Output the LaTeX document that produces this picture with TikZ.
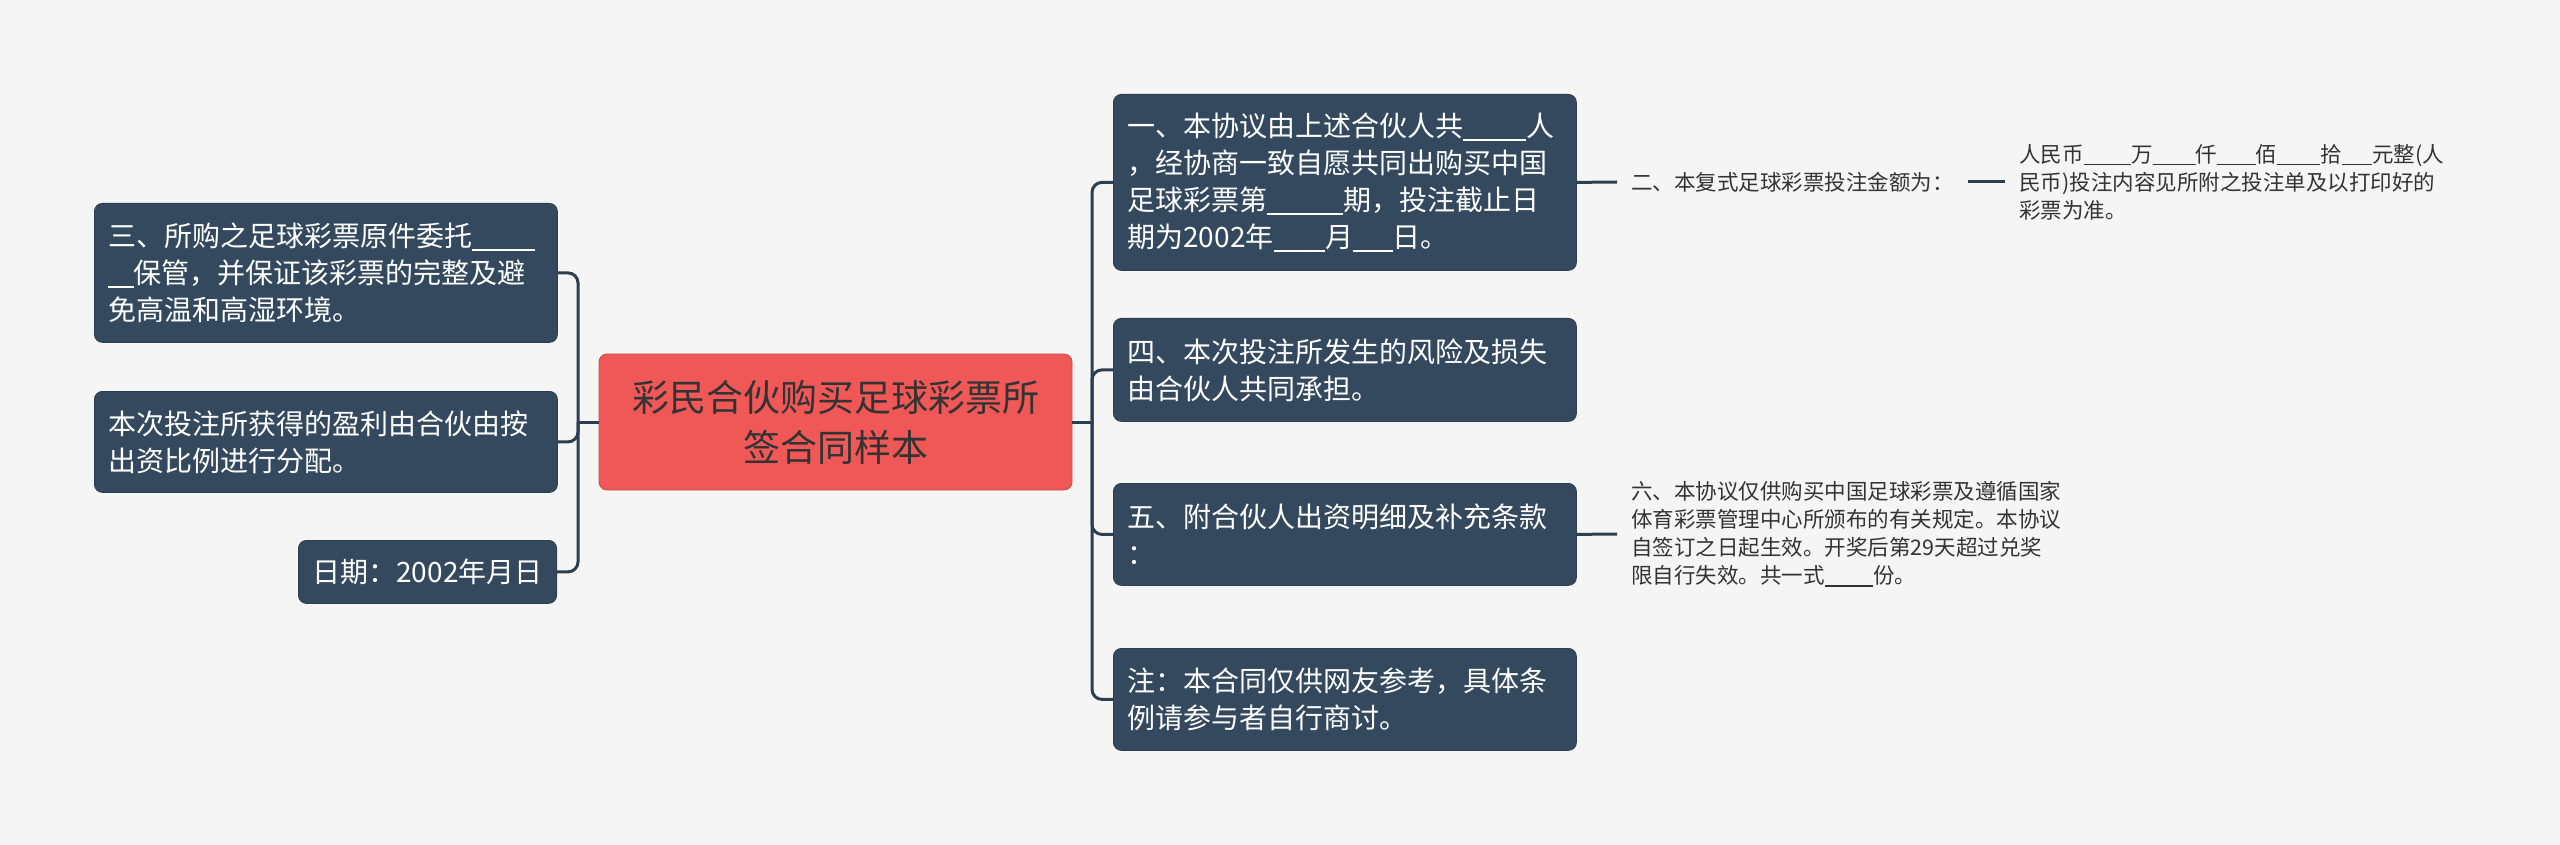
\documentclass[tikz,border=0pt]{standalone}
\usepackage{fontspec}
\setmainfont{Noto Sans CJK SC}
\usetikzlibrary{positioning}
\definecolor{PageGray}{HTML}{F5F5F5}
\definecolor{LeafBlue}{HTML}{34495E}
\definecolor{LinkBlue}{HTML}{2C3E50}
\definecolor{RootRed}{HTML}{F05858}
\definecolor{InkGray}{HTML}{333333}
\newcommand{\blank}[1]{\rule[-0.15em]{#1em}{0.06em}}

\tikzset{
  leafbox/.style={draw=LinkBlue,fill=LeafBlue,rounded corners=4pt,text=white,
    text width=217.5pt,align=left,inner xsep=7pt,inner ysep=0pt,
    font=\fontsize{14pt}{18.5pt}\selectfont},
  rootbox/.style={draw=RootRed!85!black,fill=RootRed,rounded corners=4pt,text=InkGray,
    minimum width=236.5pt,minimum height=68pt,align=center,
    font=\fontsize{18.5pt}{25pt}\selectfont},
  leaftext/.style={text=InkGray,align=left,inner xsep=7pt,
    font=\fontsize{10.75pt}{14pt}\selectfont},
  link/.style={draw=LinkBlue,line width=1.5pt,rounded corners=5pt},
}

\begin{document}
\begin{tikzpicture}[x=0.5pt,y=-0.5pt]
  \fill[PageGray] (0,0) rectangle (2560,845);

  \node[rootbox] (root) at (835.5,422) {彩民合伙购买足球彩票所\\签合同样本};

  \node[leafbox,anchor=north west,minimum height=69.5pt] (n3) at (94,203)
    {三、所购之足球彩票原件委托\blank{2.25}\\\blank{0.9}保管，并保证该彩票的完整及避\\免高温和高湿环境。};
  \node[leafbox,anchor=north west,minimum height=50.5pt] (nprofit) at (94,391)
    {本次投注所获得的盈利由合伙由按\\出资比例进行分配。};
  \node[leafbox,text width=,anchor=north east,minimum height=31.5pt] (ndate) at (557,540)
    {日期：2002年月日};

  \node[leafbox,anchor=north west,minimum height=88pt] (n1) at (1113,94)
    {一、本协议由上述合伙人共\blank{2.25}人\\，经协商一致自愿共同出购买中国\\足球彩票第\blank{2.7}期，投注截止日\\期为2002年\blank{1.85}月\blank{1.4}日。};
  \node[leafbox,anchor=north west,minimum height=51.5pt] (n4) at (1113,318)
    {四、本次投注所发生的风险及损失\\由合伙人共同承担。};
  \node[leafbox,anchor=north west,minimum height=51pt] (n5) at (1113,483)
    {五、附合伙人出资明细及补充条款\\：};
  \node[leafbox,anchor=north west,minimum height=51pt] (nnote) at (1113,648)
    {注：本合同仅供网友参考，具体条\\例请参与者自行商讨。};

  \node[leaftext,anchor=west] (n2) at (1617,182) {二、本复式足球彩票投注金额为：};
  \node[leaftext,anchor=west] (nsum) at (2005,182)
    {人民币\blank{2.2}万\blank{2}仟\blank{1.8}佰\blank{2}拾\blank{1.4}元整(人\\民币)投注内容见所附之投注单及以打印好的\\彩票为准。};
  \node[leaftext,anchor=west] (n6) at (1617,534)
    {六、本协议仅供购买中国足球彩票及遵循国家\\体育彩票管理中心所颁布的有关规定。本协议\\自签订之日起生效。开奖后第29天超过兑奖\\限自行失效。共一式\blank{2.25}份。};

  \coordinate (lj) at (578,422);
  \coordinate (rj) at (1092,422);
  \draw[link] (root.west) -- (lj);
  \draw[link] (root.east) -- (rj);
  \foreach \leaf in {n3,nprofit,ndate}
    \draw[link] (lj) |- (\leaf.east);
  \foreach \leaf in {n1,n4,n5,nnote}
    \draw[link] (rj) |- (\leaf.west);
  \draw[link] (n1.east) -- (n2.west);
  \draw[link] (n2.east) -- (nsum.west);
  \draw[link] (n5.east) -- (n6.west);
\end{tikzpicture}
\end{document}
